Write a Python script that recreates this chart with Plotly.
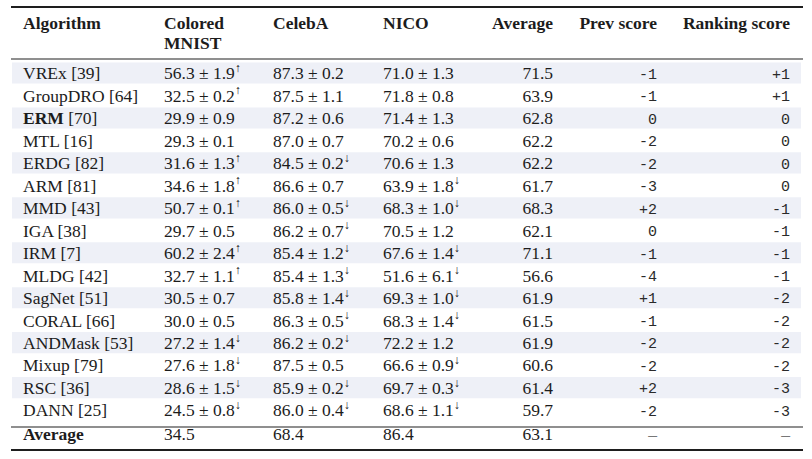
import plotly.graph_objects as go

# ---------------- data ----------------
names = ["VREx", "GroupDRO", "ERM", "MTL", "ERDG", "ARM", "MMD", "IGA", "IRM",
         "MLDG", "SagNet", "CORAL", "ANDMask", "Mixup", "RSC", "DANN"]
refs = [39, 64, 70, 16, 82, 81, 43, 38, 7, 42, 51, 66, 53, 79, 36, 25]
bold_names = ["ERM"]

cmnist_mean = [56.3, 32.5, 29.9, 29.3, 31.6, 34.6, 50.7, 29.7, 60.2, 32.7, 30.5, 30.0, 27.2, 27.6, 28.6, 24.5]
cmnist_std = [1.9, 0.2, 0.9, 0.1, 1.3, 1.8, 0.1, 0.5, 2.4, 1.1, 0.7, 0.5, 1.4, 1.8, 1.5, 0.8]
cmnist_flag = ["up", "up", "", "", "up", "up", "up", "", "up", "up", "", "", "down", "down", "down", "down"]

celeba_mean = [87.3, 87.5, 87.2, 87.0, 84.5, 86.6, 86.0, 86.2, 85.4, 85.4, 85.8, 86.3, 86.2, 87.5, 85.9, 86.0]
celeba_std = [0.2, 1.1, 0.6, 0.7, 0.2, 0.7, 0.5, 0.7, 1.2, 1.3, 1.4, 0.5, 0.2, 0.5, 0.2, 0.4]
celeba_flag = ["", "", "", "", "down", "", "down", "down", "down", "down", "down", "down", "down", "", "down", "down"]

nico_mean = [71.0, 71.8, 71.4, 70.2, 70.6, 63.9, 68.3, 70.5, 67.6, 51.6, 69.3, 68.3, 72.2, 66.6, 69.7, 68.6]
nico_std = [1.3, 0.8, 1.3, 0.6, 1.3, 1.8, 1.0, 1.2, 1.4, 6.1, 1.0, 1.4, 1.2, 0.9, 0.3, 1.1]
nico_flag = ["", "", "", "", "", "down", "down", "", "down", "down", "down", "down", "", "down", "down", "down"]

average = [71.5, 63.9, 62.8, 62.2, 62.2, 61.7, 68.3, 62.1, 71.1, 56.6, 61.9, 61.5, 61.9, 60.6, 61.4, 59.7]
prev_score = [-1, -1, 0, -2, -2, -3, 2, 0, -1, -4, 1, -1, -2, -2, 2, -2]
ranking_score = [1, 1, 0, 0, 0, 0, -1, -1, -1, -1, -2, -2, -2, -2, -3, -3]

footer_label = "Average"
footer_values = [34.5, 68.4, 86.4, 63.1]
footer_scores = ["–", "–"]

header_line1 = ["Algorithm", "Colored", "CelebA", "NICO", "Average", "Prev score", "Ranking score"]
header_line2 = ["", "MNIST", "", "", "", "", ""]

# ---------------- layout constants ----------------
W, H = 812, 459
row0_px, pitch = 73.0, 22.47
TEXT_DY = 2.0
def to_row(px):
    return (px - row0_px) / pitch

col_x = [23, 164, 273, 383, 553, 657, 790]
col_align = ["left", "left", "left", "left", "right", "right", "right"]
SERIF = "Liberation Serif, Times New Roman, serif"
MONO = "Liberation Mono, DejaVu Sans Mono, monospace"
TXT = "#1c1c1c"
FS = 17.5

rows = list(range(len(names)))
row_text_y = [i + TEXT_DY / pitch for i in rows]
y_head1 = to_row(22.7 + TEXT_DY)
y_head2 = to_row(42.3 + TEXT_DY)
y_footer = to_row(433.3 + TEXT_DY)

def arrow(f):
    return {"up": "<sup>↑</sup>", "down": "<sup>↓</sup>"}.get(f, "")

def cell(m, s, f):
    return f"{m:.1f} ± {s:.1f}{arrow(f)}"

def score(v):
    return f"{v:+d}" if v != 0 else "0"

alg_text = [(f"<b>{n}</b>" if n in bold_names else n) + f" [{r}]" for n, r in zip(names, refs)]
cm_text = [cell(m, s, f) for m, s, f in zip(cmnist_mean, cmnist_std, cmnist_flag)]
ce_text = [cell(m, s, f) for m, s, f in zip(celeba_mean, celeba_std, celeba_flag)]
ni_text = [cell(m, s, f) for m, s, f in zip(nico_mean, nico_std, nico_flag)]
av_text = [f"{v:.1f}" for v in average]
pr_text = [score(v) for v in prev_score]
rk_text = [score(v) for v in ranking_score]

columns = [alg_text, cm_text, ce_text, ni_text, av_text, pr_text, rk_text]
col_fonts = [SERIF, SERIF, SERIF, SERIF, SERIF, MONO, MONO]
col_sizes = [FS, FS, FS, FS, FS, 15, 15]
col_colors = [TXT, TXT, TXT, TXT, TXT, "#2a2a2a", "#2a2a2a"]

fig = go.Figure()

def add_text(x, ys, texts, align, family, size, color):
    fig.add_trace(go.Scatter(
        x=[x] * len(ys), y=ys, mode="text", text=texts,
        textposition="middle right" if align == "left" else "middle left",
        textfont=dict(family=family, size=size, color=color),
        hoverinfo="skip", showlegend=False, cliponaxis=False))

# body
for k in range(len(columns)):
    add_text(col_x[k], row_text_y, columns[k], col_align[k], col_fonts[k], col_sizes[k], col_colors[k])

# header
for k in range(len(header_line1)):
    add_text(col_x[k], [y_head1], [f"<b>{header_line1[k]}</b>"], col_align[k], SERIF, FS, TXT)
    if header_line2[k]:
        add_text(col_x[k], [y_head2], [f"<b>{header_line2[k]}</b>"], col_align[k], SERIF, FS, TXT)

# footer
add_text(col_x[0], [y_footer], [f"<b>{footer_label}</b>"], "left", SERIF, FS, TXT)
for k, v in enumerate(footer_values):
    add_text(col_x[k + 1], [y_footer], [f"{v:.1f}"], col_align[k + 1], SERIF, FS, TXT)
for k, t in enumerate(footer_scores):
    add_text(col_x[5 + k], [y_footer], [t], "right", SERIF, FS, "#777777")

shapes = []
# alternating row shading
for i in rows:
    if i % 2 == 0:
        shapes.append(dict(type="rect", xref="x", yref="y", x0=12, x1=801,
                           y0=i - 0.47, y1=i + 0.47, fillcolor="#eef0f7",
                           line=dict(width=0), layer="below"))
# rules
rules = [(7.0, 2.2, "#1e1e1e"), (59.0, 1.4, "#6a6a6a"), (427.0, 1.4, "#6a6a6a"), (450.0, 2.0, "#1e1e1e")]
for px, w, c in rules:
    shapes.append(dict(type="line", xref="x", yref="y", x0=11, x1=803,
                       y0=to_row(px), y1=to_row(px), line=dict(color=c, width=w)))

fig.update_layout(
    width=W, height=H, margin=dict(l=0, r=0, t=0, b=0),
    paper_bgcolor="white", plot_bgcolor="white",
    xaxis=dict(range=[0, W], visible=False, fixedrange=True),
    yaxis=dict(range=[to_row(H), to_row(0)], visible=False, fixedrange=True),
    shapes=shapes, showlegend=False,
)

fig.write_html("out.html", config={"displayModeBar": False},
               post_script="document.body.style.margin='0';document.body.style.overflow='hidden';")
